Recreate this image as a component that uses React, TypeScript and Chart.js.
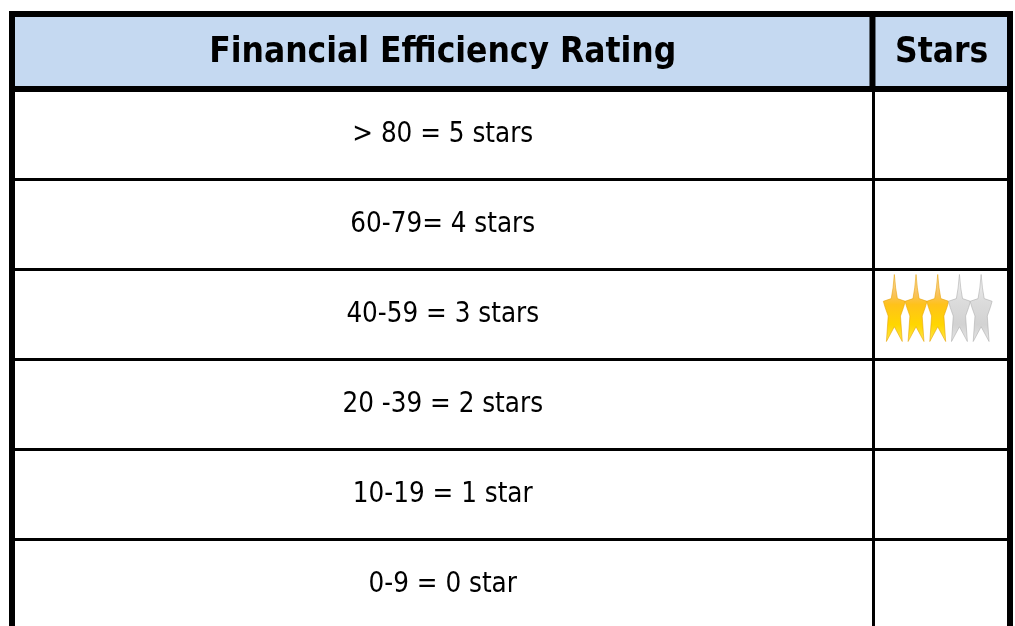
import React, { useEffect, useRef } from "react";
import { Chart, registerables } from "chart.js";

Chart.register(...registerables);

// ---- data ----
const headerRating = "Financial Efficiency Rating";
const headerStars = "Stars";
const ratingLabels = [
  "> 80 = 5 stars",
  "60-79= 4 stars",
  "40-59 = 3 stars",
  "20 -39 = 2 stars",
  "10-19 = 1 star",
  "0-9 = 0 star",
];
const starsFilled: (number | null)[] = [null, null, 3, null, null, null];
const starsTotal = 5;
const columnSplit = 0.8632; // share of the table width taken by the rating column

// ---- styles ----
const HEADER_BG = "#c5d9f1";
const FONT_FAMILY = '"DejaVu Sans Condensed", "DejaVu Sans", sans-serif';
const HEADER_HEIGHT = 75;

function starPath(ctx: CanvasRenderingContext2D, x: number, y: number, w: number, h: number) {
  const pts = [
    [0.5, 0],
    [0.56, 0.2],
    [0.64, 0.36],
    [1, 0.4],
    [0.92, 0.49],
    [0.78, 0.62],
    [0.86, 1],
    [0.5, 0.78],
    [0.14, 1],
    [0.22, 0.62],
    [0.08, 0.49],
    [0, 0.4],
    [0.36, 0.36],
    [0.44, 0.2],
  ];
  ctx.beginPath();
  pts.forEach(([px, py], i) => {
    if (i === 0) ctx.moveTo(x + px * w, y + py * h);
    else ctx.lineTo(x + px * w, y + py * h);
  });
  ctx.closePath();
}

const tablePlugin = {
  id: "tablePlugin",
  afterDraw(chart: any) {
    const ctx: CanvasRenderingContext2D = chart.ctx;
    const { left, right, top } = chart.chartArea;
    const xs = chart.scales.x;
    const ys = chart.scales.y;
    const splitPx = xs.getPixelForValue(columnSplit);
    const headTop = top - HEADER_HEIGHT;

    ctx.save();
    // header background
    ctx.fillStyle = HEADER_BG;
    ctx.fillRect(left, headTop, right - left, HEADER_HEIGHT);
    // header borders
    ctx.strokeStyle = "#000";
    ctx.lineWidth = 6;
    ctx.beginPath();
    ctx.moveTo(left - 3, headTop);
    ctx.lineTo(right + 3, headTop);
    ctx.stroke();
    [left, splitPx - 1, right].forEach((px) => {
      ctx.beginPath();
      ctx.moveTo(px, headTop - 3);
      ctx.lineTo(px, top + 3);
      ctx.stroke();
    });
    ctx.beginPath();
    ctx.moveTo(left - 3, top);
    ctx.lineTo(right + 3, top);
    ctx.stroke();

    // header text
    ctx.fillStyle = "#000";
    ctx.textAlign = "center";
    ctx.textBaseline = "middle";
    ctx.font = `bold 35px ${FONT_FAMILY}`;
    const headMid = headTop + HEADER_HEIGHT / 2 + 1;
    ctx.fillText(headerRating, (left + splitPx) / 2, headMid);
    ctx.fillText(headerStars, (splitPx + right) / 2, headMid);

    // body text
    ctx.font = `27.5px ${FONT_FAMILY}`;
    ratingLabels.forEach((lab, i) => {
      const cy = ys.getPixelForValue(i);
      ctx.fillText(lab, (left + splitPx) / 2, cy + 1);
    });

    // stars
    const sw = 22;
    const pitch = 21.7;
    const sh = 67;
    starsFilled.forEach((n, i) => {
      if (n === null) return;
      const cy = ys.getPixelForValue(i);
      const colMid = (splitPx + right) / 2;
      const x0 = colMid - (pitch * (starsTotal - 1) + sw) / 2 - 4;
      const y0 = cy - 6 - sh / 2;
      for (let k = 0; k < starsTotal; k++) {
        const x = x0 + k * pitch;
        const g = ctx.createLinearGradient(0, y0, 0, y0 + sh);
        if (k < n) {
          g.addColorStop(0, "#fcdca0");
          g.addColorStop(0.3, "#f9c25a");
          g.addColorStop(0.45, "#ffc21a");
          g.addColorStop(0.75, "#ffd600");
          g.addColorStop(1, "#ffe64d");
        } else {
          g.addColorStop(0, "#f2f2f2");
          g.addColorStop(0.4, "#dcdcdc");
          g.addColorStop(0.75, "#d2d2d2");
          g.addColorStop(1, "#e6e6e6");
        }
        starPath(ctx, x, y0, sw, sh);
        ctx.fillStyle = g;
        ctx.fill();
        ctx.lineWidth = 0.8;
        ctx.strokeStyle = k < n ? "rgba(230,160,0,0.7)" : "rgba(170,170,170,0.7)";
        ctx.stroke();
      }
    });
    ctx.restore();
  },
};

export default function App() {
  const ref = useRef<HTMLCanvasElement | null>(null);

  useEffect(() => {
    if (!ref.current) return;
    const chart = new Chart(ref.current, {
      type: "bar",
      data: {
        labels: ratingLabels,
        datasets: [
          {
            label: headerRating,
            data: ratingLabels.map(() => [0, columnSplit]) as any,
            backgroundColor: "#ffffff",
            grouped: false,
            categoryPercentage: 1,
            barPercentage: 1,
          } as any,
          {
            label: headerStars,
            data: ratingLabels.map(() => [columnSplit, 1]) as any,
            backgroundColor: "#ffffff",
            grouped: false,
            categoryPercentage: 1,
            barPercentage: 1,
          } as any,
        ],
      },
      options: {
        indexAxis: "y",
        animation: false,
        responsive: true,
        maintainAspectRatio: false,
        layout: { padding: { top: 89, left: 12, right: 5, bottom: 11 } },
        plugins: { legend: { display: false }, tooltip: { enabled: false }, title: { display: false } },
        scales: {
          x: {
            type: "linear",
            min: 0,
            max: 1,
            afterBuildTicks: (s: any) => {
              s.ticks = [{ value: 0 }, { value: columnSplit }, { value: 1 }];
            },
            ticks: { display: false },
            border: { display: false },
            grid: {
              z: 1,
              color: "#000",
              drawTicks: false,
              lineWidth: (c: any) => (c.tick && (c.tick.value === 0 || c.tick.value === 1) ? 6 : 3),
            },
          },
          y: {
            type: "category",
            offset: true,
            ticks: { display: false },
            border: { display: false },
            grid: {
              z: 1,
              offset: true,
              color: "#000",
              drawTicks: false,
              lineWidth: (c: any) => (c.index === 0 ? 6 : 3),
            },
          },
        } as any,
      },
      plugins: [tablePlugin],
    } as any);
    return () => chart.destroy();
  }, []);

  return (
    <div style={{ position: "fixed", left: 0, top: 0, width: 1015, height: 626, overflow: "hidden", background: "#fff" }}>
      <div style={{ position: "relative", width: 1015, height: 640 }}>
        <canvas ref={ref} />
      </div>
    </div>
  );
}
